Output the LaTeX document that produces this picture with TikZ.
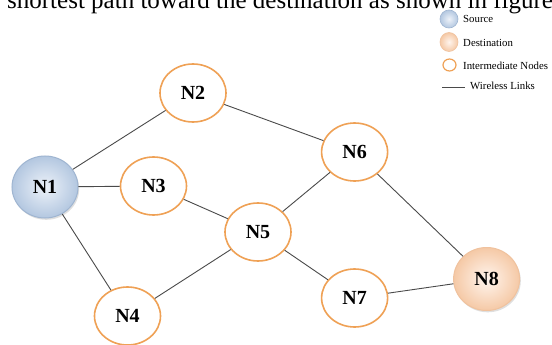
\documentclass[tikz,border=0pt]{standalone}
\usepackage{fontspec}
\setmainfont{Liberation Serif}
\usetikzlibrary{shapes.geometric,shadows}

\definecolor{srcedge}{HTML}{9FB5D1}
\definecolor{srcin}{HTML}{EDF2F9}
\definecolor{srcout}{HTML}{B3C7E0}
\definecolor{dstedge}{HTML}{F0C29E}
\definecolor{dstin}{HTML}{FFF5EE}
\definecolor{dstout}{HTML}{F5C9A6}
\definecolor{midedge}{HTML}{EFA155}
\definecolor{linkcol}{HTML}{4A4A4A}

\tikzset{
  net/.style={ellipse, inner sep=0pt, minimum width=66pt, minimum height=58pt,
    font=\fontsize{20}{23}\selectfont\bfseries},
  srcnode/.style={net, minimum height=62pt, draw=srcedge, line width=1pt,
    inner color=srcin, outer color=srcout,
    drop shadow={opacity=0.25, shadow xshift=1.2pt, shadow yshift=-1.8pt}},
  dstnode/.style={net, minimum height=63pt, draw=dstedge, line width=1pt,
    inner color=dstin, outer color=dstout,
    drop shadow={opacity=0.25, shadow xshift=1.2pt, shadow yshift=-1.8pt}},
  midnode/.style={net, draw=midedge, line width=1.6pt, fill=white},
  link/.style={draw=linkcol, line width=0.9pt},
  legtext/.style={anchor=west, inner sep=0pt, font=\fontsize{10.8}{12}\selectfont},
}

\begin{document}
\begin{tikzpicture}[x=1pt, y=-1pt]
\clip (0,0) rectangle (552,345);
\fill[white] (0,0) rectangle (552,345);

% line of running text above the figure
\node[anchor=base west, inner sep=0pt, font=\fontsize{25}{28}\selectfont] (caption) at (7,8.5)
  {shortest path toward the destination as shown in figure};

% network nodes
\node[srcnode] (n1) at (45,187) {N1};
\node[midnode] (n2) at (193,93) {N2};
\node[midnode] (n3) at (153.5,186) {N3};
\node[midnode] (n4) at (127.5,316) {N4};
\node[midnode] (n5) at (258,232) {N5};
\node[midnode] (n6) at (354.6,152) {N6};
\node[midnode] (n7) at (354.6,298) {N7};
\node[dstnode] (n8) at (486.6,279) {N8};

% wireless links
\path[link] (n1) -- (n2);
\path[link] (n1) -- (n3);
\path[link] (n1) -- (n4);
\path[link] (n2) -- (n6);
\path[link] (n3) -- (n5);
\path[link] (n4) -- (n5);
\path[link] (n5) -- (n6);
\path[link] (n5) -- (n7);
\path[link] (n6) -- (n8);
\path[link] (n7) -- (n8);

% legend
\node[ellipse, inner sep=0pt, minimum width=18pt, minimum height=18pt, draw=srcedge,
  line width=0.6pt, inner color=srcin, outer color=srcout] (lsrc) at (449,19) {};
\node[legtext] (tsrc) at (463,19) {Source};
\node[ellipse, inner sep=0pt, minimum width=18pt, minimum height=19pt, draw=dstedge,
  line width=0.6pt, inner color=dstin, outer color=dstout] (ldst) at (449,42) {};
\node[legtext] (tdst) at (463,43) {Destination};
\node[ellipse, inner sep=0pt, minimum width=13pt, minimum height=12pt, draw=midedge,
  line width=1.2pt, fill=white] (lmid) at (449.5,65) {};
\node[legtext] (tmid) at (463,65.5) {Intermediate Nodes};
\coordinate (la) at (442,87.5);
\coordinate (lb) at (465,87.5);
\path[link, line width=0.8pt] (la) -- (lb);
\node[legtext] (tlink) at (470,86) {Wireless Links};
\end{tikzpicture}
\end{document}
